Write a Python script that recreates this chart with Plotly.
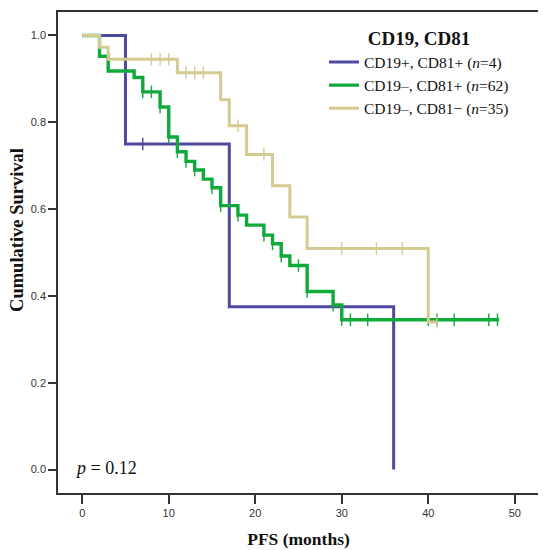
import plotly.graph_objects as go

# ---- data ----
blue_t = [0, 5, 17, 36]
blue_s = [1.0, 0.75, 0.375, 0.0]
blue_cens_t = [7]
blue_cens_s = [0.75]

green_t = [0, 2, 3, 6, 7, 9, 10, 11, 12, 13, 14, 15, 16, 18, 19, 21, 22, 23, 24, 26, 29, 30, 48.2]
green_s = [1.0, 0.952, 0.918, 0.903, 0.870, 0.835, 0.766, 0.732, 0.710, 0.690, 0.669, 0.649,
           0.608, 0.586, 0.563, 0.540, 0.520, 0.492, 0.470, 0.410, 0.379, 0.345, 0.345]
green_cens_t = [7, 8, 9, 10, 11, 12, 13, 15, 16, 18, 21, 22, 23, 25, 26, 29, 30, 31, 33, 40, 41, 43, 47, 48]
green_cens_s = [0.870, 0.870, 0.835, 0.766, 0.732, 0.710, 0.690, 0.649, 0.608, 0.586, 0.540, 0.520,
                0.492, 0.470, 0.410, 0.379, 0.345, 0.345, 0.345, 0.345, 0.345, 0.345, 0.345, 0.345]

tan_t = [0, 2, 3, 11, 16, 17, 19, 22, 24, 26, 40, 41]
tan_s = [1.0, 0.973, 0.945, 0.914, 0.852, 0.792, 0.726, 0.654, 0.582, 0.509, 0.34, 0.34]
tan_cens_t = [8, 9, 10, 12, 13, 14, 18, 21, 30, 34, 37, 41]
tan_cens_s = [0.945, 0.945, 0.945, 0.914, 0.914, 0.914, 0.792, 0.726, 0.509, 0.509, 0.509, 0.34]

names = ["CD19+, CD81+ (<i>n</i>=4)", "CD19–, CD81+ (<i>n</i>=62)", "CD19–, CD81− (<i>n</i>=35)"]
colors = ["#4E4A9F", "#10AA3A", "#D5CB92"]
widths = [3, 3.4, 3]

x_ticks = [0, 10, 20, 30, 40, 50]
y_ticks = [0.0, 0.2, 0.4, 0.6, 0.8, 1.0]

fig = go.Figure()
series = [(blue_t, blue_s, blue_cens_t, blue_cens_s),
          (green_t, green_s, green_cens_t, green_cens_s),
          (tan_t, tan_s, tan_cens_t, tan_cens_s)]
for (t, s, ct, cs), nm, col, w in zip(series, names, colors, widths):
    fig.add_trace(go.Scatter(x=t, y=s, mode="lines", line=dict(shape="hv", color=col, width=w),
                             name=nm, showlegend=True))
    fig.add_trace(go.Scatter(x=ct, y=cs, mode="markers", showlegend=False,
                             marker=dict(symbol="line-ns", size=9,
                                         line=dict(color=col, width=1.4))))

serif = "Liberation Serif, Times New Roman, serif"
sans = "Liberation Sans, Arial, sans-serif"

# page body has an 8px default margin, so the figure is sized to fit the window
fig.update_layout(
    width=538, height=542,
    margin=dict(l=49.5, r=7, t=3.7, b=56.5, autoexpand=False),
    plot_bgcolor="white", paper_bgcolor="white",
    showlegend=True,
    legend=dict(x=0.553, y=0.982, xanchor="left", yanchor="top",
                bgcolor="rgba(0,0,0,0)",
                font=dict(family=serif, size=15.5, color="#111"),
                title=dict(text="<b>CD19, CD81</b>", side="top center",
                           font=dict(family=serif, size=19, color="#111")),
                tracegroupgap=0, itemwidth=30),
    xaxis=dict(range=[-2.8, 52.8], tickvals=x_ticks, ticks="outside", ticklen=9,
               tickcolor="#333", tickwidth=1.5, showline=True, linecolor="#333", linewidth=1.5,
               mirror=True, showgrid=False, zeroline=False,
               tickfont=dict(family=sans, size=11, color="#333"),
               title=dict(text="<b>PFS (months)</b>", standoff=15,
                          font=dict(family=serif, size=17.5, color="#111"))),
    yaxis=dict(range=[-0.054, 1.054], tickvals=y_ticks, tickformat=".1f", ticks="outside", ticklen=8,
               tickcolor="#333", tickwidth=1.5, showline=True, linecolor="#333", linewidth=1.5,
               mirror=True, showgrid=False, zeroline=False,
               tickfont=dict(family=sans, size=11, color="#333")),
    annotations=[
        dict(text="<i>p</i> = 0.12", xref="paper", yref="paper", x=0.032, y=0.051,
             xanchor="left", yanchor="middle", showarrow=False,
             font=dict(family=serif, size=18, color="#111")),
        dict(text="<b>Cumulative Survival</b>", xref="paper", yref="paper", x=-0.084, y=0.546,
             xanchor="center", yanchor="middle", textangle=-90, showarrow=False,
             font=dict(family=serif, size=18.5, color="#111")),
    ],
)

fig.write_html("out.html")
